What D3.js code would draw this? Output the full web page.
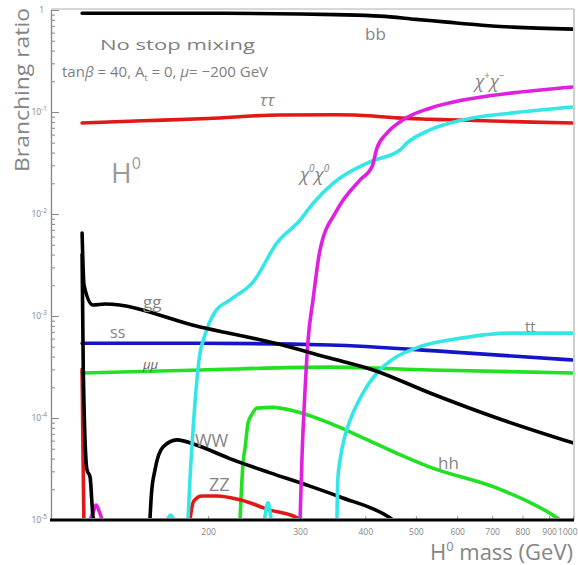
<!DOCTYPE html>
<html>
<head>
<meta charset="utf-8">
<script src="https://cdn.jsdelivr.net/npm/d3@7"></script>
<style>
  body { margin: 0; background: #fff; }
  svg { display: block; }
  text { font-family: "Open Sans", "DejaVu Sans", sans-serif; }
</style>
</head>
<body>
<svg id="chart" width="578" height="565"></svg>
<script>
// ---- data: H0 branching ratios vs H0 mass (GeV), [mass, BR] pairs ----
const massTicks = [200, 300, 400, 500, 600, 700, 800, 900, 1000];
const brDecades = [0, -1, -2, -3, -4, -5];

const bb   = [[114.7,0.93],[200,0.93],[300,0.915],[350,0.9],[427,0.87],[500,0.81],[574,0.76],[670,0.71],[767,0.68],[1000,0.65]];
const tautau = [[114.7,0.078],[150,0.082],[200,0.0865],[275,0.0935],[350,0.094],[414,0.0915],[460,0.0875],[532,0.085],[574,0.084],[800,0.080],[1000,0.078]];
const gg   = [[114.7,6.5e-3],[115.7,2.0e-3],[120.4,1.28e-3],[126.9,1.31e-3],[193,7.8e-4],[269,5.4e-4],[342,3.87e-4],[414,2.96e-4],[532,1.76e-4],[715,1.0e-4],[1000,5.7e-5]];
const ss   = [[114.7,5.4e-4],[193,5.4e-4],[342,5.2e-4],[581,4.45e-4],[1000,3.7e-4]];
const mumu = [[114.7,2.76e-4],[193,2.96e-4],[342,3.15e-4],[532,2.96e-4],[1000,2.76e-4]];
const ttbar = [[353,1e-5],[354.4,2.5e-5],[358,3.9e-5],[366,6.8e-5],[374,9.5e-5],[396,1.76e-4],[421,2.76e-4],[460,4.0e-4],[503,4.9e-4],[615,6.1e-4],[747,6.8e-4],[1000,6.8e-4]];
const chi0chi0 = [[183,1e-5],[184.6,2.5e-5],[187.1,7.6e-5],[190.4,2.4e-4],[192.1,3.7e-4],[197.2,6.5e-4],[206,1.09e-3],[220,1.43e-3],[244,2.16e-3],[271,5.2e-3],[300,8.7e-3],[318,1.28e-2],[347,2.0e-2],[408,3.24e-2],[466,4.24e-2],[481,4.97e-2],[532,6.67e-2],[615,8.35e-2],[767,9.8e-2],[1000,0.112]];
const chi0Bumps = [[[167,1e-5],[169.5,1.12e-5],[172,1e-5]], [[256.5,1e-5],[260.5,1.48e-5],[264,1e-5]]];
const chipchim = [[300,1e-5],[302.6,4.2e-5],[306.7,1.9e-4],[310.8,5.8e-4],[317.6,1.43e-3],[327.5,4.4e-3],[353,1.09e-2],[391,2.16e-2],[412,2.9e-2],[421,4.4e-2],[440,6.2e-2],[472,8.35e-2],[532,0.109],[615,0.131],[767,0.154],[1000,0.176]];
const chipchimLow = [[118.8,1e-5],[120.5,1.2e-5],[122,1.4e-5],[123.8,1.2e-5],[125.3,1e-5]];
const wwLow = [[114.7,4.0e-3],[115.3,3.0e-4],[117.2,3.1e-5],[118.8,2.64e-5],[120.4,1.07e-5],[121,1e-5]];
const ww   = [[154.7,1e-5],[155.7,1.76e-5],[158.2,3.1e-5],[163.9,5.2e-5],[174.3,6.1e-5],[190.4,5.4e-5],[220,4.0e-5],[263,2.9e-5],[309,2.2e-5],[358,1.68e-5],[446,1.05e-5],[452,1e-5]];
const zzLow = [[114.7,3.0e-4],[115.2,4e-5],[115.6,1e-5]];
const zz   = [[184.6,1e-5],[186,1.3e-5],[188,1.55e-5],[194.6,1.72e-5],[208,1.72e-5],[230,1.58e-5],[263,1.25e-5],[296,1.05e-5],[300,1e-5]];
const hh   = [[230.2,1e-5],[233.3,3.6e-5],[235.5,5.2e-5],[238.5,8.9e-5],[243,1.1e-4],[248,1.25e-4],[266,1.27e-4],[296,1.15e-4],[342,8.9e-5],[396,6.4e-5],[460,4.5e-5],[532,3.3e-5],[725,2.0e-5],[932,1.05e-5],[945,1e-5]];

// ---- layout ----
const plot = { left: 51, right: 573, top: 10, bottom: 520 };
const x = d3.scaleLog().domain([100, 1000]).range([plot.left, plot.right]);
const y = d3.scaleLog().domain([1e-5, 1]).range([plot.bottom, plot.top]);

const svg = d3.select("#chart");
const gray = "#858585";

svg.append("defs").append("clipPath").attr("id", "plotClip")
  .append("rect")
  .attr("x", plot.left).attr("y", plot.top - 3)
  .attr("width", plot.right - plot.left).attr("height", plot.bottom - plot.top + 1);

// frame (top and right)
svg.append("path")
  .attr("d", `M${plot.left},${plot.top - 1}H${plot.right + 1}V${plot.bottom}`)
  .attr("fill", "none").attr("stroke", "#b0b0b0").attr("stroke-width", 1.2);

// y axis: major and minor ticks pointing into the plot
const minorVals = [];
brDecades.forEach(e => { if (e > -5) for (let k = 1; k < 10; k++) minorVals.push(k * Math.pow(10, e - 1)); });
const yMinor = svg.append("g").attr("transform", `translate(${plot.left},0)`)
  .call(d3.axisLeft(y).tickValues(minorVals).tickSize(-4).tickSizeOuter(0).tickFormat(""));
const yMajor = svg.append("g").attr("transform", `translate(${plot.left},0)`)
  .call(d3.axisLeft(y).tickValues(brDecades.map(e => Math.pow(10, e))).tickSize(-8).tickSizeOuter(0).tickFormat(""));
[yMinor, yMajor].forEach(g => {
  g.selectAll("line").attr("stroke", "#8a8a8a");
  g.select(".domain").attr("stroke", "#8a8a8a").attr("stroke-width", 1.2);
});

// y tick labels: 1, 10^-1 ... 10^-5
brDecades.forEach(e => {
  const yy = y(Math.pow(10, e));
  const t = svg.append("text").attr("fill", gray).attr("font-size", 8.5)
    .attr("text-anchor", "end").attr("x", e === 0 ? 44 : 47).attr("y", yy + 3);
  if (e === 0) { t.text("1"); }
  else {
    t.append("tspan").text("10");
    t.append("tspan").attr("font-size", 6.5).attr("dy", -4).text("-" + (-e));
  }
});

// x axis: ticks and labels (last label kept inside the page edge)
const xAxis = svg.append("g").attr("transform", `translate(0,${plot.bottom})`)
  .call(d3.axisBottom(x).tickValues(massTicks).tickSize(-4).tickSizeOuter(0).tickPadding(9)
    .tickFormat(d3.format("d")));
xAxis.selectAll("line").attr("stroke", "#9a9a9a");
xAxis.selectAll("text").attr("fill", gray).attr("font-size", 8.5).attr("font-family", "\"Open Sans\", sans-serif");
xAxis.selectAll("text").filter(d => d === 1000).attr("text-anchor", "end").attr("dx", 4);
xAxis.select(".domain").remove();

// ---- curves ----
const line = d3.line().x(d => x(d[0])).y(d => y(d[1])).curve(d3.curveMonotoneX);
const curves = svg.append("g").attr("clip-path", "url(#plotClip)")
  .attr("fill", "none").attr("stroke-width", 3.6).attr("stroke-linejoin", "round").attr("stroke-linecap", "round");

const C = { black: "#000000", red: "#e21818", blue: "#1414c8", green: "#22e022", cyan: "#34e6e6", magenta: "#e020e0" };
const series = [
  [bb, C.black], [tautau, C.red], [ss, C.blue], [mumu, C.green],
  [hh, C.green], [zz, C.red], [ww, C.black],
  [chi0Bumps[0], C.cyan], [chi0Bumps[1], C.cyan],
  [ttbar, C.cyan], [chi0chi0, C.cyan], [chipchim, C.magenta],
  [chipchimLow, C.magenta], [zzLow, C.red], [wwLow, C.black], [gg, C.black]
];
series.forEach(([data, color]) => {
  curves.append("path").datum(data).attr("d", line).attr("stroke", color);
});

// bottom axis line
svg.append("line")
  .attr("x1", plot.left - 1).attr("x2", plot.right + 1)
  .attr("y1", plot.bottom).attr("y2", plot.bottom)
  .attr("stroke", "#000").attr("stroke-width", 3);

// ---- text ----
function label(txt, px, py, size, opts = {}) {
  const t = svg.append("text").attr("x", px).attr("y", py).attr("font-size", size)
    .attr("fill", opts.fill || gray);
  if (opts.anchor) t.attr("text-anchor", opts.anchor);
  if (opts.style) t.attr("font-style", opts.style);
  if (opts.len) t.attr("textLength", opts.len).attr("lengthAdjust", "spacingAndGlyphs");
  return t.text(txt);
}

// axis titles
svg.append("text").attr("transform", "translate(29,90) rotate(-90)")
  .attr("text-anchor", "middle").attr("font-size", 20).attr("fill", gray)
  .attr("textLength", 164).attr("lengthAdjust", "spacingAndGlyphs")
  .text("Branching ratio");

const xt = svg.append("text").attr("x", 573).attr("y", 560).attr("text-anchor", "end")
  .attr("font-size", 22).attr("fill", gray);
xt.append("tspan").text("H");
xt.append("tspan").attr("font-size", 13).attr("dy", -9).text("0");
xt.append("tspan").attr("dy", 9).text(" mass (GeV)");

// scenario description
label("No stop mixing", 100, 50, 15, { fill: "#808080", len: 155 });
const sc = svg.append("text").attr("x", 62).attr("y", 77).attr("font-size", 15).attr("fill", "#808080");
sc.append("tspan").text("tan");
sc.append("tspan").attr("font-style", "italic").text("β");
sc.append("tspan").text(" = 40, A");
sc.append("tspan").attr("font-size", 9).attr("dy", 4).text("t");
sc.append("tspan").attr("dy", -4).text(" = 0, ");
sc.append("tspan").attr("font-style", "italic").text("μ");
sc.append("tspan").text("= −200 GeV");

// H0 tag
const h0 = svg.append("text").attr("x", 111).attr("y", 183).attr("font-size", 28).attr("fill", "#9a9a9a");
h0.append("tspan").text("H");
h0.append("tspan").attr("font-size", 16).attr("dy", -14).text("0");

// channel names
label("bb", 365, 40, 17);
label("ττ", 260, 106, 17, { style: "italic" });
label("gg", 143, 308, 17);
label("ss", 110, 338, 16);
label("μμ", 143, 369, 13, { style: "italic", fill: "#666" });
label("tt", 525, 332, 15);
label("WW", 195, 447, 18);
label("ZZ", 209, 491, 18);
label("hh", 438, 469, 17);

function chiLabel(px, py, s1, s2) {
  const t = svg.append("text").attr("x", px).attr("y", py).attr("font-size", 18).attr("fill", gray)
    .attr("font-style", "italic");
  t.append("tspan").text("χ");
  t.append("tspan").attr("font-size", 10).attr("dy", -9).text(s1);
  t.append("tspan").attr("dy", 9).text("χ");
  t.append("tspan").attr("font-size", 10).attr("dy", -9).text(s2);
}
chiLabel(475, 88, "+", "−");
chiLabel(300, 181, "0", "0");
</script>
</body>
</html>
